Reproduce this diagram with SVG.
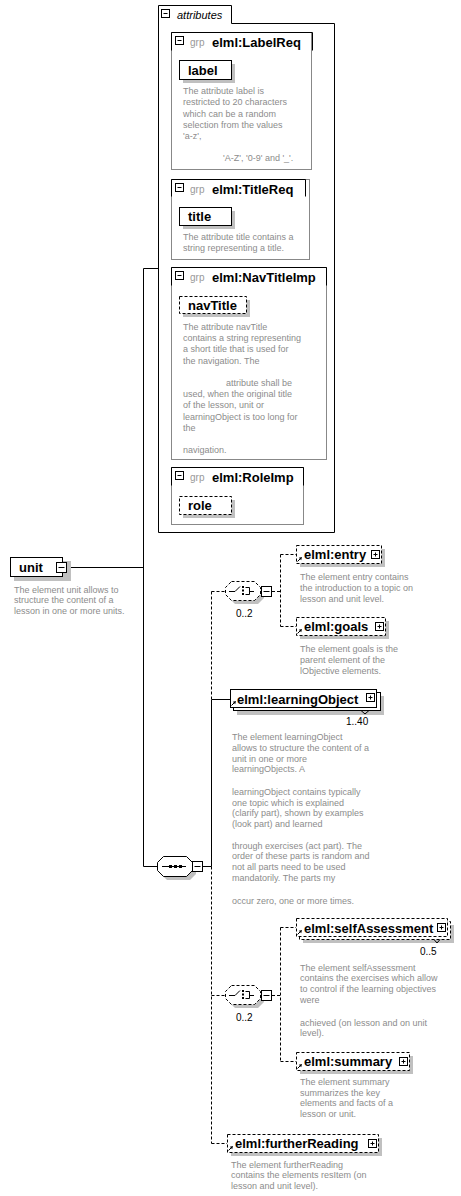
<svg xmlns="http://www.w3.org/2000/svg" width="461" height="1196" viewBox="0 0 461 1196">
<style>
.sh{fill:#c0c0c0;stroke:none}
.box{fill:#fff;stroke:#000;stroke-width:1}
.dbox{fill:#fff;stroke:#000;stroke-width:1;stroke-dasharray:3,2}
.grpb{fill:#fff;stroke:#888;stroke-width:1}
.tab{fill:none;stroke:#000;stroke-width:1}
.name{font-family:"Liberation Sans",Arial,sans-serif;font-weight:bold;font-size:13px;fill:#000}
.desc{font-family:"Liberation Sans",Arial,sans-serif;font-size:9px;fill:#8c8c8c}
.gl{font-family:"Liberation Sans",Arial,sans-serif;font-size:10px;fill:#999}
.occ{font-family:"Liberation Sans",Arial,sans-serif;font-size:10px;fill:#000}
.att{font-family:"Liberation Sans",Arial,sans-serif;font-size:11px;font-style:italic;fill:#000}
.ln{stroke:#000;fill:none;stroke-width:1}
.dl{stroke:#000;fill:none;stroke-width:1;stroke-dasharray:3,2}
.pm{fill:#fff;stroke:#000;stroke-width:1}
</style>
<defs>
<g id="minus"><rect class="pm" x="0.5" y="0.5" width="8" height="8"/><path class="ln" d="M2.5,4.5H6.5"/></g>
<g id="plus"><rect class="pm" x="0.5" y="0.5" width="8" height="8"/><path class="ln" d="M2.5,4.5H6.5M4.5,2.5V6.5"/></g>
<g id="bminus"><rect class="pm" x="0.5" y="0.5" width="10" height="10"/><path class="ln" d="M2.5,5.5H8.5"/></g>
<g id="ref"><path class="ln" d="M0.5,5.5L3.5,2.5"/><path d="M5,1L1.8,1.8L4.2,4.2Z" fill="#000"/></g>
<g id="choice">
<path class="sh" d="M10,4H33L39,10V17L33,23H10L4,17V10Z"/>
<path class="dbox" d="M6.5,0.5H29.5L35.5,6.5V13.5L29.5,19.5H6.5L0.5,13.5V6.5Z"/>
<path class="ln" d="M4,10.5H10L15,5.5"/>
<rect x="17" y="5" width="2" height="2" fill="#000"/>
<rect x="17" y="8.5" width="2" height="2" fill="#000"/>
<rect x="17" y="12" width="2" height="2" fill="#000"/>
<path class="ln" d="M20.5,6.5H24.5V13.5H20.5M24.5,10.5H29"/>
<use href="#bminus" x="36" y="5"/>
</g>
</defs>

<g id="connectors">
<path class="ln" d="M67,567.5H143.5M143.5,268.5V866.5M143.5,268.5H158M143.5,866.5H157"/>
<path class="ln" d="M203,866.5H211.5"/>
<path class="dl" d="M211.5,591.5V700"/>
<path class="ln" d="M211.5,700V866.5M211.5,699.5H230"/>
<path class="dl" d="M211.5,866.5V1143.5"/>
<path class="dl" d="M211.5,591.5H225M211.5,995.5H225M211.5,1143.5H227"/>
<path class="dl" d="M272,591.5H280.5M280.5,554.5V626.5M280.5,554.5H296M280.5,626.5H296"/>
<path class="dl" d="M272,995.5H280.5M280.5,927.5V1061.5M280.5,927.5H296M280.5,1061.5H296"/>
</g>

<g id="attributes">
<path class="box" d="M158.5,532.5V5.5H231.5V23.5H334.5V532.5Z"/>
<use href="#minus" x="161" y="9"/>
<text class="att" x="177" y="19">attributes</text>
</g>

<g id="grp-LabelReq">
<rect class="grpb" x="171.5" y="32.5" width="140" height="137"/>
<path class="tab" d="M171.5,50.5V32.5H312.5V50.5"/>
<use href="#minus" x="175" y="36"/>
<text class="gl" x="190" y="46">grp</text>
<text class="name" x="212" y="47">elml:LabelReq</text>
<rect class="sh" x="183" y="64" width="52" height="19"/>
<rect class="box" x="179.5" y="60.5" width="52" height="19"/>
<text class="name" x="188" y="75">label</text>
<text class="desc"><tspan x="183" y="94">The attribute label is</tspan><tspan x="183" y="105.3">restricted to 20 characters</tspan><tspan x="183" y="116.6">which can be a random</tspan><tspan x="183" y="127.9">selection from the values</tspan><tspan x="183" y="139.2">'a-z',</tspan><tspan x="223" y="161">'A-Z', '0-9' and '_'.</tspan></text>
</g>

<g id="grp-TitleReq">
<rect class="grpb" x="171.5" y="179.5" width="138" height="80"/>
<path class="tab" d="M171.5,196.5V179.5H305.5V196.5"/>
<use href="#minus" x="175" y="183"/>
<text class="gl" x="190" y="193">grp</text>
<text class="name" x="212" y="194">elml:TitleReq</text>
<rect class="sh" x="183" y="211" width="52" height="18"/>
<rect class="box" x="179.5" y="207.5" width="52" height="18"/>
<text class="name" x="188" y="221">title</text>
<text class="desc"><tspan x="183" y="240">The attribute title contains a</tspan><tspan x="183" y="251">string representing a title.</tspan></text>
</g>

<g id="grp-NavTitleImp">
<rect class="grpb" x="171.5" y="267.5" width="155" height="192"/>
<path class="tab" d="M171.5,285.5V267.5H326.5V285.5"/>
<use href="#minus" x="175" y="271"/>
<text class="gl" x="190" y="281">grp</text>
<text class="name" x="212" y="282">elml:NavTitleImp</text>
<rect class="sh" x="183" y="300" width="67" height="17"/>
<rect class="dbox" x="179.5" y="296.5" width="67" height="17"/>
<text class="name" x="188" y="310">navTitle</text>
<text class="desc"><tspan x="183" y="330">The attribute navTitle</tspan><tspan x="183" y="341.2">contains a string representing</tspan><tspan x="183" y="352.4">a short title that is used for</tspan><tspan x="183" y="363.6">the navigation. The</tspan><tspan x="226" y="386">attribute shall be</tspan><tspan x="183" y="397.2">used, when the original title</tspan><tspan x="183" y="408.4">of the lesson, unit or</tspan><tspan x="183" y="419.6">learningObject is too long for</tspan><tspan x="183" y="430.8">the</tspan><tspan x="183" y="453">navigation.</tspan></text>
</g>

<g id="grp-RoleImp">
<rect class="grpb" x="171.5" y="467.5" width="132" height="57"/>
<path class="tab" d="M171.5,485.5V467.5H303.5V485.5"/>
<use href="#minus" x="175" y="471"/>
<text class="gl" x="190" y="481">grp</text>
<text class="name" x="212" y="482">elml:RoleImp</text>
<rect class="sh" x="183" y="500" width="52" height="18"/>
<rect class="dbox" x="179.5" y="496.5" width="52" height="18"/>
<text class="name" x="188" y="510">role</text>
</g>

<g id="unit">
<rect class="sh" x="14" y="561" width="57" height="20"/>
<rect class="box" x="10.5" y="557.5" width="52" height="19"/>
<use href="#bminus" x="56" y="562"/>
<text class="name" x="19" y="572">unit</text>
<text class="desc"><tspan x="14" y="592.5">The element unit allows to</tspan><tspan x="14" y="603.2">structure the content of a</tspan><tspan x="14" y="614">lesson in one or more units.</tspan></text>
</g>

<g id="sequence">
<path class="sh" d="M167,860H190L196,866V874L190,880H167L161,874V866Z"/>
<path class="box" d="M163.5,856.5H186.5L192.5,862.5V870.5L186.5,876.5H163.5L157.5,870.5V862.5Z"/>
<path class="ln" d="M162,866.5H186"/>
<rect x="169" y="865" width="3" height="3" fill="#000"/>
<rect x="174" y="865" width="3" height="3" fill="#000"/>
<rect x="179" y="865" width="3" height="3" fill="#000"/>
<use href="#bminus" x="192" y="861"/>
</g>

<g id="choice1">
<use href="#choice" x="225" y="581"/>
<text class="occ" x="236" y="617">0..2</text>
</g>

<g id="entry">
<rect class="sh" x="300" y="549" width="85" height="18"/>
<rect class="dbox" x="296.5" y="545.5" width="85" height="18"/>
<use href="#ref" x="297" y="556"/>
<use href="#plus" x="371" y="550"/>
<text class="name" x="304" y="559">elml:entry</text>
<text class="desc"><tspan x="300" y="579.5">The element entry contains</tspan><tspan x="300" y="590.7">the introduction to a topic on</tspan><tspan x="300" y="602">lesson and unit level.</tspan></text>
</g>

<g id="goals">
<rect class="sh" x="300" y="621" width="89" height="18"/>
<rect class="dbox" x="296.5" y="617.5" width="89" height="18"/>
<use href="#ref" x="297" y="628"/>
<use href="#plus" x="375" y="622"/>
<text class="name" x="304" y="631">elml:goals</text>
<text class="desc"><tspan x="300" y="651.5">The element goals is the</tspan><tspan x="300" y="662.7">parent element of the</tspan><tspan x="300" y="674">lObjective elements.</tspan></text>
</g>

<g id="learningObject">
<rect class="sh" x="237" y="696" width="147" height="19"/>
<rect class="box" x="233.5" y="692.5" width="147" height="18"/>
<rect class="box" x="230.5" y="689.5" width="146" height="18"/>
<path class="ln" d="M361,710.5L365,714L369,710.5"/>
<use href="#ref" x="231" y="700"/>
<use href="#plus" x="366" y="693"/>
<text class="name" x="237" y="704">elml:learningObject</text>
<text class="occ" x="346" y="725">1..40</text>
<text class="desc"><tspan x="232" y="740">The element learningObject</tspan><tspan x="232" y="750.8">allows to structure the content of a</tspan><tspan x="232" y="761.6">unit in one or more</tspan><tspan x="232" y="772.4">learningObjects. A</tspan><tspan x="232" y="794.8">learningObject contains typically</tspan><tspan x="232" y="805.6">one topic which is explained</tspan><tspan x="232" y="816.4">(clarify part), shown by examples</tspan><tspan x="232" y="827.2">(look part) and learned</tspan><tspan x="232" y="848.5">through exercises (act part). The</tspan><tspan x="232" y="859.3">order of these parts is random and</tspan><tspan x="232" y="870.1">not all parts need to be used</tspan><tspan x="232" y="881">mandatorily. The parts my</tspan><tspan x="232" y="903.5">occur zero, one or more times.</tspan></text>
</g>

<g id="choice2">
<use href="#choice" x="225" y="985"/>
<text class="occ" x="236" y="1021">0..2</text>
</g>

<g id="selfAssessment">
<rect class="sh" x="303" y="925" width="151" height="18"/>
<rect class="dbox" x="299.5" y="921.5" width="151" height="18"/>
<rect class="dbox" x="296.5" y="918.5" width="151" height="18"/>
<path class="ln" d="M434,939.5L437,943L440,939.5"/>
<use href="#ref" x="297" y="929"/>
<use href="#plus" x="437" y="923"/>
<text class="name" x="304" y="933">elml:selfAssessment</text>
<text class="occ" x="420" y="955">0..5</text>
<text class="desc"><tspan x="300" y="970.5">The element selfAssessment</tspan><tspan x="300" y="981.3">contains the exercises which allow</tspan><tspan x="300" y="992.1">to control if the learning objectives</tspan><tspan x="300" y="1003">were</tspan><tspan x="300" y="1025.5">achieved (on lesson and on unit</tspan><tspan x="300" y="1036">level).</tspan></text>
</g>

<g id="summary">
<rect class="sh" x="300" y="1056" width="113" height="18"/>
<rect class="dbox" x="296.5" y="1052.5" width="113" height="18"/>
<use href="#ref" x="297" y="1063"/>
<use href="#plus" x="399" y="1057"/>
<text class="name" x="304" y="1066">elml:summary</text>
<text class="desc"><tspan x="300" y="1085">The element summary</tspan><tspan x="300" y="1095.7">summarizes the key</tspan><tspan x="300" y="1106.4">elements and facts of a</tspan><tspan x="300" y="1117">lesson or unit.</tspan></text>
</g>

<g id="furtherReading">
<rect class="sh" x="231" y="1138" width="151" height="18"/>
<rect class="dbox" x="227.5" y="1134.5" width="151" height="18"/>
<use href="#ref" x="228" y="1145"/>
<use href="#plus" x="368" y="1139"/>
<text class="name" x="235" y="1148">elml:furtherReading</text>
<text class="desc"><tspan x="231" y="1167.5">The element furtherReading</tspan><tspan x="231" y="1178">contains the elements resItem (on</tspan><tspan x="231" y="1188.5">lesson and unit level).</tspan></text>
</g>
</svg>
